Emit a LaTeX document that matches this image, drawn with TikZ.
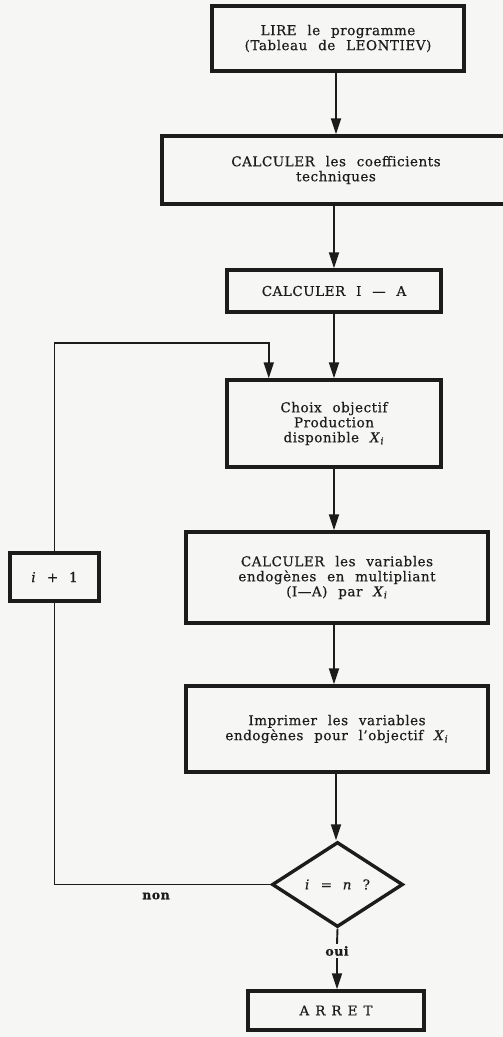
\documentclass[tikz,border=0pt]{standalone}
\usepackage{fontspec}
\setmainfont{DejaVu Serif}[LetterSpace=4, FakeBold=0.5]
\usetikzlibrary{arrows.meta,shapes.geometric,calc}
\definecolor{paper}{HTML}{F6F6F4}
\definecolor{ink}{HTML}{1C1C1C}
\newcommand{\boxfont}{\fontsize{13.5}{15}\selectfont\spaceskip=0.8em plus 0.2em\relax}
\tikzset{
  stepbox/.style={rectangle, draw=ink, line width=3.4pt, inner sep=0pt,
    align=center, text=ink, font=\boxfont},
  test/.style={diamond, draw=ink, line width=3.4pt, inner sep=0pt,
    text=ink, font=\boxfont},
  tag/.style={text=ink, inner sep=2pt, font=\fontsize{12.5}{14}\selectfont\bfseries},
  link/.style={draw=ink, line width=1.9pt},
  flow/.style={link, -{Triangle[length=16pt,width=10pt]}},
}
\newcommand{\Xsub}{\textit{X}\textsubscript{\textit{i}}}
\begin{document}
\begin{tikzpicture}[x=1pt, y=-1pt]
  % page
  \fill[paper] (0,0) rectangle (503,1037);
  \useasboundingbox (0,0) rectangle (503,1037);
  \clip (0,0) rectangle (503,1037);

  % process steps
  \node[stepbox, minimum width=252pt, minimum height=65pt] (b1) at (338,38.5)
    {LIRE le programme\\(Tableau de LEONTIEV)};
  \node[stepbox, minimum width=348pt, minimum height=68pt] (b2) at (336,170)
    {CALCULER les coefficients\\techniques};
  \node[stepbox, minimum width=214pt, minimum height=42pt] (b3) at (334,291)
    {CALCULER I — A};
  \node[stepbox, minimum width=214pt, minimum height=87pt] (b4) at (334,423.5)
    {Choix objectif\\Production\\disponible \Xsub};
  \node[stepbox, minimum width=302pt, minimum height=91pt] (b5) at (337,577.5)
    {CALCULER les variables\\endogènes en multipliant\\(I—A) par \Xsub};
  \node[stepbox, minimum width=302pt, minimum height=86pt] (b6) at (337,729)
    {Imprimer les variables\\endogènes pour l’objectif \Xsub};
  \node[test, minimum width=131pt, minimum height=85pt] (d) at (337.5,884.5)
    {\textit{i} = \textit{n} ?};
  \node[stepbox, minimum width=176pt, minimum height=39pt] (stop) at (336,1010.5)
    {A\kern6pt R\kern6pt R\kern6pt E\kern6pt T};

  % loop counter
  \node[stepbox, minimum width=89pt, minimum height=48pt] (inc) at (54.5,577)
    {\textit{i} + 1};

  % branch labels
  \node[tag] (non) at (156,896) {non};
  \node[tag] (oui) at (337,951) {oui};

  % main sequence
  \draw[flow] (b1.south -| b2) -- (b2.north);
  \draw[flow] (b2.south -| b3) -- (b3.north);
  \draw[flow] (b3.south) -- (b4.north);
  \draw[flow] (b4.south) -- (b4.south |- b5.north);
  \draw[flow] (b5.south -| b4) -- (b4 |- b6.north);
  \draw[flow] (b6.south -| b2) -- (b2 |- d.north);
  \draw[link] (d.south) -- (oui.north);
  \draw[flow] (oui.south) -- (oui.south |- stop.north);

  % feedback loop
  \coordinate (tap) at ($(b4.north west)!0.2!(b4.north east)$);
  \draw[link] (d.west) -| (inc.south);
  \draw[flow] (inc.north) |- ([yshift=35pt]tap) -- (tap);
\end{tikzpicture}
\end{document}
